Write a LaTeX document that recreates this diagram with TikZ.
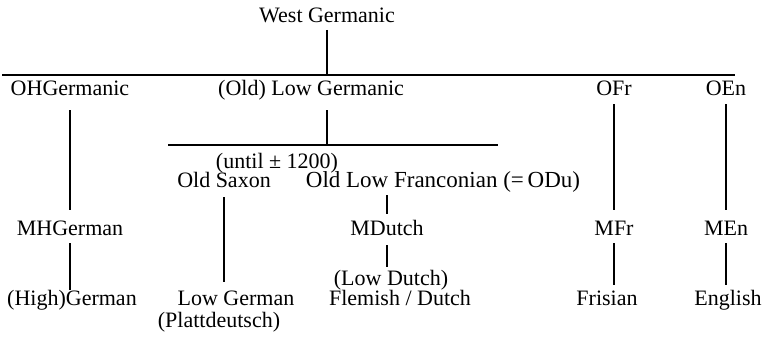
\documentclass[tikz,border=0pt]{standalone}
\usepackage{fontspec}
\setmainfont{Liberation Serif}
\begin{document}
\begin{tikzpicture}[x=1pt,y=-1pt,
  lbl/.style={anchor=base,inner sep=0pt,font=\fontsize{22}{26}\selectfont},
  conn/.style={line width=1.1pt}]
\useasboundingbox (0,0) rectangle (762,337);
% labels
\node[lbl] (wg) at (327,23) {West Germanic};
\node[lbl] (ohg) at (70,95) {OHGermanic};
\node[lbl,anchor=base west] (olg) at (218,95) {(Old) Low Germanic};
\node[lbl] (ofr) at (614,95) {OFr};
\node[lbl] (oen) at (726,95) {OEn};
\node[lbl] (until) at (277,168) {(until ± 1200)};
\node[lbl] (os) at (224,187) {Old Saxon};
\node[lbl,font=\fontsize{23}{27}\selectfont] (olf) at (443,187) {Old Low Franconian (=\,ODu)};
\node[lbl] (mhg) at (70,235) {MHGerman};
\node[lbl] (mdu) at (387,235) {MDutch};
\node[lbl] (mfr) at (614,235) {MFr};
\node[lbl] (men) at (726,235) {MEn};
\node[lbl] (ldu) at (391,285) {(Low Dutch)};
\node[lbl] (hg) at (72,305) {(High)German};
\node[lbl] (lg) at (236,305) {Low German};
\node[lbl] (fd) at (400,305) {Flemish / Dutch};
\node[lbl] (fris) at (607,305) {Frisian};
\node[lbl] (eng) at (728,305) {English};
\node[lbl] (platt) at (219,327) {(Plattdeutsch)};
% bars
\coordinate (barL) at (2,75);
\coordinate (barR) at (735,75);
\coordinate (subL) at (168,145);
\coordinate (subR) at (498,145);
\draw[conn] (barL) -- (barR);
\draw[conn] (subL) -- (subR);
% connectors
\draw[conn] (wg |- 0,30) -- (wg |- barL);
\draw[conn] (ohg |- 0,110) -- (mhg |- 0,210);
\draw[conn] (mhg |- 0,243) -- (hg.north -| mhg);
\draw[conn] (wg |- 0,110) -- (wg |- subL);
\draw[conn] (os |- 0,197) -- (os |- 0,282);
\draw[conn] (mdu |- 0,195) -- (mdu |- 0,214);
\draw[conn] (mdu |- 0,245) -- (mdu |- 0,267);
\draw[conn] (ofr |- 0,104) -- (mfr |- 0,210);
\draw[conn] (mfr |- 0,243) -- (mfr |- 0,285);
\draw[conn] (oen |- 0,104) -- (men |- 0,210);
\draw[conn] (men |- 0,243) -- (men |- 0,285);
\end{tikzpicture}
\end{document}
